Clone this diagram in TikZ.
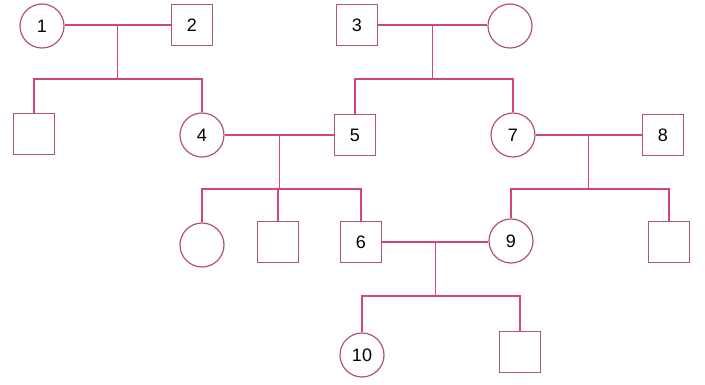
\documentclass[tikz,border=0pt]{standalone}
\usepackage{fontspec}
\setmainfont{Liberation Sans}
\usepackage{xcolor}
\usepackage{tikz}
\usetikzlibrary{calc, positioning}

\definecolor{pedline}{RGB}{214,68,124}
\definecolor{pedshape}{RGB}{176,84,116}

\tikzset{
  female/.style={circle, draw=pedshape, line width=1.2pt, minimum size=44pt, inner sep=0pt, font=\fontsize{18}{20}\selectfont},
  male/.style={rectangle, draw=pedshape, line width=1.2pt, minimum size=41pt, inner sep=0pt, font=\fontsize{18}{20}\selectfont},
  link/.style={draw=pedline, line width=1.3pt}
}

\begin{document}
\begin{tikzpicture}[x=1pt, y=-1pt]
\useasboundingbox (0,0) rectangle (705,385);

% Generation I
\node[female] (p1) at (42,26) {1};
\node[male] (p2) at (192,25) {2};
\node[male] (p3) at (357,25) {3};
\node[female] (pw) at (510,26) {};

% Generation II
\node[male] (q1) at (34,134) {};
\node[female] (p4) at (202,135) {4};
\node[male] (p5) at (355,135) {5};
\node[female] (p7) at (513,135) {7};
\node[male] (p8) at (663,135) {8};

% Generation III
\node[female] (r1) at (202,245) {};
\node[male] (r2) at (278,242) {};
\node[male] (p6) at (361,242) {6};
\node[female] (p9) at (511,241) {9};
\node[male] (r3) at (669,242) {};

% Generation IV
\node[female] (p10) at (362,355) {10};
\node[male] (s1) at (520,352) {};

% Couples and their children
\draw[link] (p1.east |- p2.west) -- coordinate[midway] (m12) (p2.west);
\coordinate (k12) at ($(m12)+(0,54)$);
\draw[link] (m12) -- (k12);
\draw[link] (q1.north) |- (k12) -| (p4.north);

\draw[link] (p3.east) -- coordinate[midway] (m3w) (pw.west |- p3.east);
\coordinate (k3w) at ($(m3w)+(0,54)$);
\draw[link] (m3w) -- (k3w);
\draw[link] (p5.north) |- (k3w) -| (p7.north);

\draw[link] (p4.east) -- coordinate[midway] (m45) (p5.west);
\coordinate (k45) at ($(m45)+(0,54)$);
\draw[link] (m45) -- (k45);
\draw[link] (r1.north) |- (k45) -| (p6.north);
\draw[link] (k45) -| (r2.north);

\draw[link] (p7.east) -- coordinate[midway] (m78) (p8.west);
\coordinate (k78) at ($(m78)+(0,54)$);
\draw[link] (m78) -- (k78);
\draw[link] (p9.north) |- (k78) -| (r3.north);

\draw[link] (p6.east) -- coordinate[midway] (m69) (p9.west |- p6.east);
\coordinate (k69) at ($(m69)+(0,54)$);
\draw[link] (m69) -- (k69);
\draw[link] (p10.north) |- (k69) -| (s1.north);

\end{tikzpicture}
\end{document}
